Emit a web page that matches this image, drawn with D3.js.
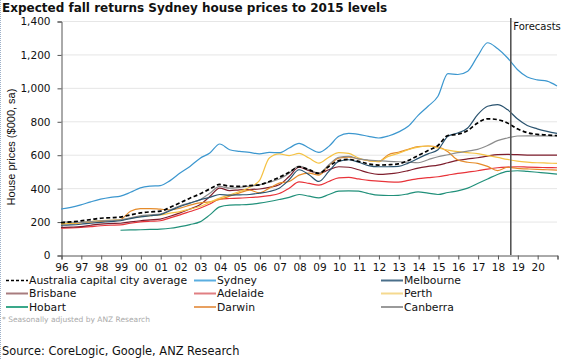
<!DOCTYPE html>
<html><head><meta charset="utf-8">
<script src="https://cdn.jsdelivr.net/npm/d3@7"></script>
<style>
html,body{margin:0;padding:0;background:#fff;}
svg{display:block;}
</style></head>
<body>
<svg id="c" width="567" height="360"></svg>
<script>
const years = d3.range(1996, 2021.01, 0.5);
const yTicks = [0,200,400,600,800,1000,1200,1400];
const xTickLabels = ["96","97","98","99","00","01","02","03","04","05","06","07","08","09","10","11","12","13","14","15","16","17","18","19","20"];
const forecastStart = 2018.67;

const average = [193,198,204,212,220,223,227,240,252,258,262,285,312,340,365,395,422,412,410,415,420,440,465,495,528,510,488,530,565,572,560,545,538,540,545,565,595,625,655,715,722,745,790,815,810,790,755,732,722,718,714];
const sydney = [275,285,300,318,334,345,352,375,402,412,415,445,490,530,578,610,664,630,620,614,605,614,612,640,668,640,614,650,710,728,722,710,700,712,735,770,835,890,950,1085,1080,1100,1190,1270,1235,1180,1110,1065,1048,1040,1011];
const melbourne = [178,180,184,190,195,200,205,218,228,235,242,265,290,310,330,345,362,358,360,362,370,380,400,450,510,480,440,500,560,570,555,535,528,528,530,550,578,605,630,710,730,760,840,890,900,870,815,775,755,740,728];
const brisbane = [165,167,170,178,185,188,190,198,205,210,215,232,252,275,300,350,400,385,390,392,395,405,420,470,525,505,488,510,528,525,510,492,482,485,492,505,520,530,538,552,566,575,582,592,600,602,600,598,597,598,598];
const adelaide = [160,162,165,170,175,178,180,190,198,202,205,222,240,260,280,305,335,338,340,344,348,355,368,400,438,428,418,440,462,464,455,446,442,438,436,446,457,463,468,478,488,496,504,514,522,526,528,526,524,523,522];
const perth = [188,190,194,200,206,208,210,220,230,235,240,250,260,275,290,315,340,360,380,405,445,580,605,595,608,580,550,585,612,608,580,565,560,590,608,630,645,652,640,628,618,612,606,595,584,572,562,556,552,550,548];
const hobart = [null,null,null,null,null,null,148,150,151,153,155,160,170,182,198,240,288,298,300,303,310,320,332,345,362,352,342,362,382,384,382,368,358,356,357,366,378,370,362,374,384,400,428,455,482,500,504,500,495,490,484];
const darwin = [185,188,192,196,200,205,212,262,278,278,274,270,280,298,312,318,332,352,372,388,372,400,430,440,478,490,478,535,580,585,575,565,558,600,615,632,648,652,646,618,568,555,548,530,505,525,518,515,512,510,508];
const canberra = [200,196,195,200,205,207,210,222,235,240,245,270,295,312,330,370,410,400,405,412,420,435,455,490,532,510,488,540,585,590,575,568,564,560,558,555,552,570,588,600,612,622,632,655,684,700,712,713,713,712,712];

const seriesNames = ["Australia capital city average","Sydney","Melbourne","Brisbane","Adelaide","Perth","Hobart","Darwin","Canberra"];
const seriesData = [average,sydney,melbourne,brisbane,adelaide,perth,hobart,darwin,canberra];
const colors = ["#000000","#3c97cf","#2a536f","#7e1e2d","#e8343a","#f5c244","#21907a","#e58b2a","#8c8c8c"];
const legendColors = ["#000000","#5aaee0","#4a6f8a","#a87c7e","#e07f82","#f5d98f","#3aa88a","#e8a060","#9a9a9a"];

const svg = d3.select("#c");
const font = "DejaVu Sans, Verdana, sans-serif";

const x = d3.scaleLinear().domain([1996, 2021]).range([61, 557]);
const y = d3.scaleLinear().domain([0, 1400]).range([255, 21]);

// left dotted border
svg.append("line").attr("x1",0.5).attr("x2",0.5).attr("y1",0).attr("y2",360)
  .attr("stroke","#9db0c8").attr("stroke-dasharray","1,1");

// title
svg.append("text").attr("x",2).attr("y",12).attr("font-family",font).attr("font-weight","bold")
  .attr("font-size","12px").attr("fill","#111").text("Expected fall returns Sydney house prices to 2015 levels");

// gridlines
svg.append("g").selectAll("line").data(yTicks.filter(d=>d>0)).join("line")
  .attr("x1",61).attr("x2",557).attr("y1",d=>y(d)+0.5).attr("y2",d=>y(d)+0.5)
  .attr("stroke","#e6e6e6").attr("stroke-width",1);

// y axis
const yAxis = svg.append("g").attr("transform","translate(61.5,0.5)")
  .call(d3.axisLeft(y).tickValues(yTicks).tickSize(4).tickPadding(7).tickFormat(d3.format(",")));
yAxis.select(".domain").attr("stroke","#555");
yAxis.selectAll(".tick line").attr("stroke","#555");
yAxis.selectAll("text").attr("font-family",font).attr("font-size","10.5px").attr("fill","#111");

// x axis
const tickYears = d3.range(1996, 2021.01, 1);
const xAxis = svg.append("g").attr("transform","translate(0.5,255.5)")
  .call(d3.axisBottom(x).tickValues(tickYears).tickSize(4).tickPadding(4)
    .tickFormat((d,i)=> i < xTickLabels.length ? xTickLabels[i] : ""));
xAxis.select(".domain").attr("stroke","#555");
xAxis.selectAll(".tick line").attr("stroke","#555");
xAxis.selectAll("text").attr("font-family",font).attr("font-size","10.5px").attr("fill","#111");

// y axis title
svg.append("text").attr("transform","translate(15,147) rotate(-90)").attr("text-anchor","middle")
  .attr("font-family","Liberation Sans, Arial, sans-serif").attr("font-size","11px").attr("fill","#111")
  .text("House prices ($000, sa)");

// lines
const line = d3.line().defined(d=>d[1]!=null).x(d=>x(d[0])).y(d=>y(d[1])).curve(d3.curveMonotoneX);
const drawOrder = [6,4,3,7,5,8,2,1,0];
drawOrder.forEach(i=>{
  const pts = years.map((yr,j)=>[yr, seriesData[i][j]]);
  svg.append("path").datum(pts).attr("d",line).attr("fill","none")
    .attr("stroke",colors[i]).attr("stroke-width", i===0?1.7:1.2)
    .attr("stroke-dasharray", i===0?"4,2.5":null);
});

// forecast marker
svg.append("line").attr("x1",x(forecastStart)).attr("x2",x(forecastStart)).attr("y1",18).attr("y2",255)
  .attr("stroke","#555").attr("stroke-width",1.6);
svg.append("text").attr("x",x(forecastStart)+2.5).attr("y",30).attr("font-family",font)
  .attr("font-size","10px").attr("fill","#111").text("Forecasts");

// legend
const colX = [6, 194, 381];
const rowY = [280.5, 293.5, 307];
seriesNames.forEach((n,i)=>{
  const cx = colX[i%3], cy = rowY[Math.floor(i/3)];
  svg.append("line").attr("x1",cx).attr("x2",cx+22).attr("y1",cy).attr("y2",cy)
    .attr("stroke",legendColors[i]).attr("stroke-width",i===0?1.6:2)
    .attr("stroke-dasharray",i===0?"3,2":null);
  svg.append("text").attr("x",cx+23).attr("y",cy+3.8).attr("font-family",font)
    .attr("font-size","10.8px").attr("fill","#111").text(n);
});

svg.append("text").attr("x",2).attr("y",322).attr("font-family",font).attr("font-size","7.5px")
  .attr("fill","#aaa").text("* Seasonally adjusted by ANZ Research");
svg.append("text").attr("x",2).attr("y",355).attr("font-family",font).attr("font-size","11.4px")
  .attr("fill","#111").text("Source: CoreLogic, Google, ANZ Research");
</script>
</body></html>
